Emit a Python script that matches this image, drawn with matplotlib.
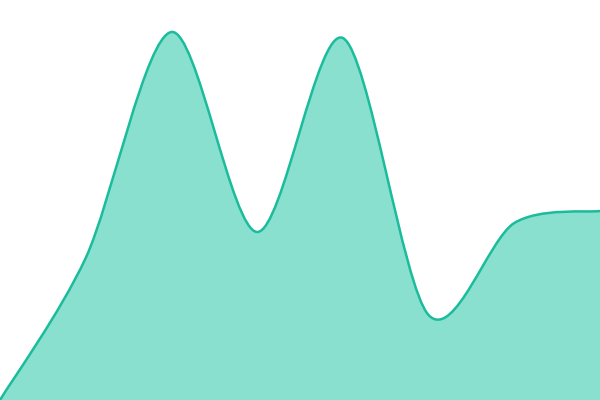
import matplotlib
matplotlib.use("Agg")
import matplotlib.pyplot as plt
import numpy as np
from matplotlib.path import Path
from matplotlib.patches import PathPatch

# values (8 evenly spaced points)
xs = [0, 1, 2, 3, 4, 5, 6, 7]
values = [0, 142, 368, 168, 362, 85, 177, 189]

line_color = "#1abc9c"
fill_color = "#8ae0cf"


def cardinal_path(px, py, tension=0.1, closed_base=None):
    # bezier segments like a d3 cardinal curve
    pts = np.column_stack([px, py]).astype(float)
    n = len(pts)
    k = (1 - tension) / 6.0
    verts = [pts[0]]
    codes = [Path.MOVETO]
    for i in range(n - 1):
        p_prev = pts[max(i - 1, 0)]
        p0 = pts[i]
        p1 = pts[i + 1]
        p_next = pts[min(i + 2, n - 1)]
        c1 = p0 + k * (p1 - p_prev)
        c2 = p1 - k * (p_next - p0)
        verts += [c1, c2, p1]
        codes += [Path.CURVE4] * 3
    if closed_base is not None:
        verts += [(pts[-1][0], closed_base), (pts[0][0], closed_base), pts[0]]
        codes += [Path.LINETO, Path.LINETO, Path.CLOSEPOLY]
    return Path(verts, codes)


fig = plt.figure(figsize=(6, 4), dpi=100)
ax = fig.add_axes([0, 0, 1, 1])
ax.set_xlim(0, 7)
ax.set_ylim(0, 400)
ax.axis("off")

area = PathPatch(cardinal_path(xs, values, closed_base=0), facecolor=fill_color,
                 edgecolor="none")
ax.add_patch(area)
outline = PathPatch(cardinal_path(xs, values), facecolor="none",
                    edgecolor=line_color, linewidth=1.8, capstyle="round")
ax.add_patch(outline)

fig.savefig("out.png", dpi=100)
